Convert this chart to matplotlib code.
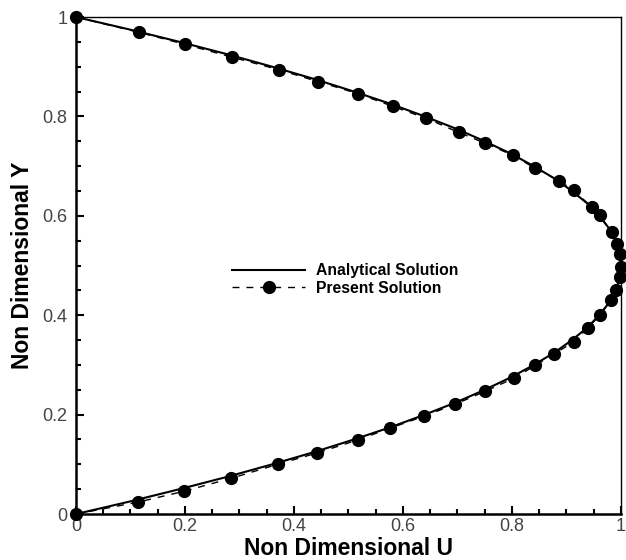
import matplotlib
matplotlib.use('Agg')
import matplotlib.pyplot as plt
from matplotlib.ticker import MultipleLocator

plt.rcParams['font.family'] = ['Liberation Sans', 'DejaVu Sans']

# Analytical solution
y_analytical = [0.0, 0.025, 0.05, 0.075, 0.1, 0.125, 0.15, 0.175, 0.2, 0.225, 0.25,
                0.275, 0.3, 0.325, 0.35, 0.375, 0.4, 0.425, 0.45, 0.475, 0.5,
                0.525, 0.55, 0.575, 0.6, 0.625, 0.65, 0.675, 0.7, 0.725, 0.75,
                0.775, 0.8, 0.825, 0.85, 0.875, 0.9, 0.925, 0.95, 0.975, 1.0]
u_analytical = [0.0, 0.098, 0.19, 0.278, 0.36, 0.438, 0.51, 0.578, 0.64, 0.698, 0.75,
                0.798, 0.84, 0.878, 0.91, 0.938, 0.96, 0.978, 0.99, 0.998, 1.0,
                0.998, 0.99, 0.978, 0.96, 0.938, 0.91, 0.878, 0.84, 0.798, 0.75,
                0.698, 0.64, 0.578, 0.51, 0.438, 0.36, 0.278, 0.19, 0.098, 0.0]

# Present solution markers
y_present = [1.0, 0.969, 0.945, 0.919, 0.894, 0.870, 0.846, 0.820, 0.796, 0.768,
             0.746, 0.722, 0.696, 0.671, 0.651, 0.617, 0.601, 0.567, 0.543, 0.523,
             0.497, 0.476, 0.450, 0.430, 0.400, 0.374, 0.346, 0.322, 0.299, 0.273,
             0.247, 0.221, 0.197, 0.173, 0.149, 0.123, 0.100, 0.072, 0.046, 0.024, 0.0]
u_present = [0.0, 0.116, 0.200, 0.287, 0.372, 0.444, 0.517, 0.582, 0.643, 0.702,
             0.751, 0.801, 0.842, 0.886, 0.913, 0.947, 0.961, 0.983, 0.993, 0.998,
             1.0, 0.998, 0.990, 0.982, 0.961, 0.939, 0.913, 0.877, 0.843, 0.803,
             0.751, 0.696, 0.639, 0.577, 0.517, 0.443, 0.370, 0.285, 0.199, 0.114, 0.0]

tick_vals = [0, 0.2, 0.4, 0.6, 0.8, 1.0]
tick_text = ['0', '0.2', '0.4', '0.6', '0.8', '1']

fig = plt.figure(figsize=(6.26, 5.6), dpi=100)
ax = fig.add_axes([0.1214, 0.0821, 0.8706, 0.8875])

ax.plot(u_analytical, y_analytical, color='black', lw=1.5, label='Analytical Solution')
ax.plot(u_present, y_present, color='black', lw=1.0, ls=(0, (5, 5)), marker='o',
        markersize=8.5, label='Present Solution', clip_on=False, zorder=5)

ax.set_xlim(0, 1)
ax.set_ylim(0, 1)
ax.set_xticks(tick_vals)
ax.set_xticklabels(tick_text)
ax.set_yticks(tick_vals)
ax.set_yticklabels(tick_text)
ax.xaxis.set_minor_locator(MultipleLocator(0.05))
ax.yaxis.set_minor_locator(MultipleLocator(0.05))

ax.tick_params(which='both', direction='in', top=False, right=False, width=1.5,
               labelsize=13, labelcolor='#444444')
ax.tick_params(axis='y', pad=6)
ax.tick_params(axis='x', pad=3)
ax.tick_params(which='major', length=6)
ax.tick_params(which='minor', length=3.5)
for s in ax.spines.values():
    s.set_linewidth(1.0)
ax.spines['left'].set_linewidth(1.8)
ax.spines['bottom'].set_linewidth(1.8)

ax.set_xlabel('Non Dimensional U', fontsize=16.5, fontweight='bold', labelpad=1)
ax.set_ylabel('Non Dimensional Y', fontsize=16.5, fontweight='bold', labelpad=6)

leg = ax.legend(loc='center left', bbox_to_anchor=(0.287, 0.472), frameon=False,
                prop={'weight': 'bold', 'size': 11.3}, handlelength=4.6,
                labelspacing=0.15, borderpad=0, borderaxespad=0, handletextpad=0.7)

fig.savefig('out.png', dpi=100)
